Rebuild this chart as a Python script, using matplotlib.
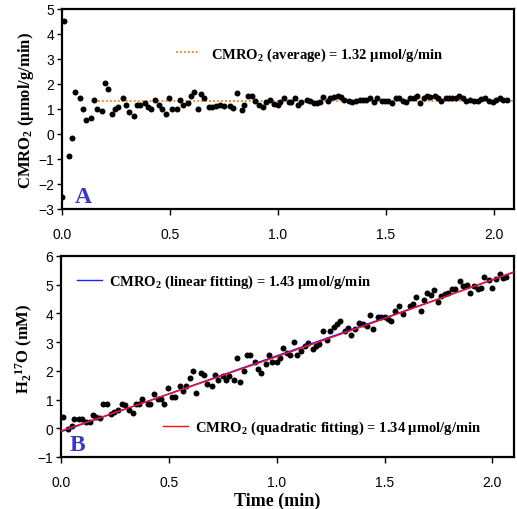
import numpy as np
import matplotlib
matplotlib.use('Agg')
import matplotlib.pyplot as plt
from matplotlib.lines import Line2D

plt.rcParams['font.family'] = ['Liberation Sans', 'DejaVu Sans']
plt.rcParams['mathtext.fontset'] = 'custom'
plt.rcParams['mathtext.rm'] = 'Liberation Serif:bold'
plt.rcParams['mathtext.bf'] = 'Liberation Serif:bold'
plt.rcParams['mathtext.it'] = 'Liberation Serif:bold:italic'

# ---------------- data ----------------
# Panel A: CMRO2 (umol/g/min) vs time (min)
cmro2_t = [0.000, 0.009, 0.032, 0.046, 0.060, 0.083, 0.097, 0.111, 0.133, 0.147,
           0.162, 0.184, 0.198, 0.212, 0.233, 0.247, 0.261, 0.282, 0.296, 0.312,
           0.332, 0.347, 0.361, 0.383, 0.397, 0.411, 0.432, 0.448, 0.462, 0.481,
           0.497, 0.511, 0.531, 0.545, 0.560, 0.582, 0.596, 0.610, 0.631, 0.645,
           0.659, 0.681, 0.694, 0.713,
           0.731, 0.750, 0.778, 0.793, 0.809, 0.832, 0.843, 0.860, 0.880, 0.895,
           0.911, 0.932, 0.944, 0.963, 0.981, 0.999, 1.009, 1.031, 1.052, 1.062,
           1.080, 1.094, 1.110, 1.136, 1.148, 1.167, 1.182, 1.194, 1.212, 1.231,
           1.244, 1.259, 1.278, 1.293, 1.309, 1.330, 1.346, 1.361, 1.380, 1.395,
           1.407, 1.426, 1.444, 1.460, 1.481, 1.497, 1.513, 1.531, 1.546, 1.562,
           1.580, 1.596, 1.611, 1.633, 1.645, 1.661, 1.676, 1.691, 1.707, 1.728,
           1.744, 1.756, 1.778, 1.793, 1.809, 1.827, 1.839, 1.858, 1.874, 1.892,
           1.911, 1.929, 1.944, 1.960, 1.978, 1.997, 2.012, 2.028, 2.043, 2.062]
cmro2_v = [-2.52, 4.52, -0.88, -0.16, 1.69, 1.43, 0.99, 0.55, 0.63, 1.35,
           0.99, 0.91, 2.03, 1.79, 0.80, 0.99, 1.08, 1.43, 1.16, 0.89,
           0.72, 1.16, 1.16, 1.25, 1.07, 0.99, 1.35, 1.16, 0.99, 0.80,
           1.43, 0.99, 0.99, 1.35, 1.16, 1.25, 1.52, 1.69, 0.99, 1.61,
           1.43, 1.08, 1.08, 1.12,
           1.16, 1.13, 1.13, 1.05, 1.63, 0.96, 1.16, 1.52, 1.52, 1.31,
           1.17, 1.07, 1.27, 1.36, 1.21, 1.17, 1.27, 1.44, 1.27, 1.27,
           1.44, 1.17, 1.27, 1.36, 1.31, 1.23, 1.23, 1.27, 1.49, 1.31,
           1.44, 1.49, 1.53, 1.49, 1.36, 1.31, 1.27, 1.31, 1.36, 1.36,
           1.36, 1.44, 1.27, 1.44, 1.33, 1.33, 1.33, 1.23, 1.44, 1.44,
           1.33, 1.27, 1.44, 1.44, 1.53, 1.23, 1.44, 1.53, 1.49, 1.53,
           1.44, 1.33, 1.44, 1.44, 1.44, 1.44, 1.53, 1.44, 1.33, 1.36,
           1.31, 1.31, 1.40, 1.44, 1.31, 1.27, 1.36, 1.44, 1.36, 1.36]
avg_t = [0.167, 2.095]
avg_v = [1.32, 1.32]

# Panel B: H2 17O (mM) vs time (min)
h2o_t = [0.011, 0.034, 0.049, 0.062, 0.085, 0.097, 0.114, 0.134, 0.148, 0.164,
         0.182, 0.196, 0.211, 0.232, 0.244, 0.262, 0.284, 0.297, 0.315, 0.334,
         0.349, 0.362, 0.377, 0.401, 0.414, 0.429, 0.448, 0.464, 0.479, 0.497,
         0.516, 0.529,
         0.550, 0.566, 0.578, 0.599, 0.613, 0.627, 0.649, 0.663, 0.678, 0.700,
         0.715, 0.729, 0.751, 0.765, 0.780, 0.800, 0.814, 0.828, 0.850, 0.864,
         0.878, 0.899, 0.915, 0.929, 0.950, 0.964, 0.980, 1.001, 1.017, 1.029,
         1.048, 1.060,
         1.080, 1.096, 1.114, 1.129, 1.145, 1.166, 1.182, 1.194, 1.216, 1.231,
         1.247, 1.266, 1.278, 1.293, 1.315, 1.331, 1.346, 1.364, 1.383, 1.398,
         1.417, 1.433, 1.445, 1.470, 1.485, 1.500, 1.516, 1.531, 1.547, 1.565,
         1.587,
         1.616, 1.632, 1.647, 1.669, 1.681, 1.697, 1.715, 1.731, 1.746, 1.762,
         1.780, 1.796, 1.811, 1.827, 1.848, 1.864, 1.882, 1.898, 1.913, 1.935,
         1.947, 1.962, 1.984, 1.996, 2.015, 2.033, 2.049, 2.064]
h2o_v = [0.38, -0.04, 0.08, 0.31, 0.31, 0.31, 0.22, 0.22, 0.47, 0.39,
         0.36, 0.86, 0.86, 0.51, 0.57, 0.63, 0.86, 0.80, 0.63, 0.54,
         0.86, 0.86, 1.01, 0.86, 0.86, 1.18, 1.01, 1.01, 0.86, 1.39,
         1.09, 1.09,
         1.47, 1.29, 1.47, 1.76, 2.01, 1.24, 1.94, 1.85, 1.55, 1.47,
         1.85, 1.68, 1.83, 1.68, 1.83, 1.68, 2.46, 1.62, 2.01, 2.55,
         2.55, 2.30, 2.06, 1.91, 2.23, 2.55, 2.30, 2.30, 2.46, 2.79,
         2.61, 2.55,
         3.00, 2.55, 2.70, 2.88, 2.96, 2.75, 2.85, 2.93, 3.40, 3.08,
         3.40, 3.52, 3.63, 3.73, 3.40, 3.49, 3.26, 3.47, 3.67, 3.63,
         3.55, 3.94, 3.47, 3.87, 3.87, 3.87, 3.82, 3.75, 4.10, 4.25,
         3.98,
         4.27, 4.34, 4.57, 4.08, 4.48, 4.71, 4.64, 4.82, 4.41, 4.60,
         4.69, 4.71, 4.84, 4.84, 5.12, 4.96, 4.98, 4.71, 4.96, 4.84,
         4.89, 5.28, 5.16, 4.89, 5.19, 5.39, 5.22, 5.28]
lin_t = [0.0, 2.10]
lin_v = [-0.12, 5.43]
quad_t = [0.0, 0.25, 0.5, 0.75, 1.0, 1.25, 1.5, 1.75, 2.0, 2.10]
quad_v = [-0.09, 0.55, 1.19, 1.84, 2.49, 3.15, 3.82, 4.50, 5.18, 5.45]

x_ticks = [0.0, 0.5, 1.0, 1.5, 2.0]
x_ticklabels = ['0.0', '0.5', '1.0', '1.5', '2.0']
ya_ticks = [-3, -2, -1, 0, 1, 2, 3, 4, 5]
yb_ticks = [-1, 0, 1, 2, 3, 4, 5, 6]

lbl_avg = 'CMRO$_2$ (average) = 1.32 \u03bcmol/g/min'
lbl_lin = 'CMRO$_2$ (linear fitting) = 1.43 \u03bcmol/g/min'
lbl_quad = 'CMRO$_2$ (quadratic fitting) = 1.34 \u03bcmol/g/min'
ylabel_a = 'CMRO$_2$ (\u03bcmol/g/min)'
ylabel_b = 'H$_2$$^{17}$O (mM)'
xlabel_b = 'Time (min)'

# ---------------- figure ----------------
W, H = 517, 510
fig = plt.figure(figsize=(W / 100, H / 100), dpi=100)
ax1 = fig.add_axes([62 / W, 1 - 210 / H, 452 / W, 200 / H])
ax2 = fig.add_axes([61 / W, 1 - 458 / H, 453 / W, 201 / H])

serif = dict(family='Liberation Serif', weight='bold')
orange = '#F5801E'
letter_color = '#3838C4'
prop = dict(family='Liberation Serif', weight='bold', size=10.5)

# Panel A
ax1.plot(avg_t, avg_v, ls=(0, (1, 1.2)), color=orange, lw=1.3, zorder=2)
ax1.plot(cmro2_t, cmro2_v, 'o', color='black', ms=4.3, mec='none', zorder=3)
ax1.set_xlim(0, 2.095)
ax1.set_ylim(-3, 5)
ax1.set_yticks(ya_ticks)
ax1.set_ylabel(ylabel_a, fontsize=12, **serif)
ax1.yaxis.set_label_coords(-0.058, 0.5)
ax1.text(0.046, 0.06, 'A', transform=ax1.transAxes, ha='center', va='center',
         fontsize=17, color=letter_color, **serif)
h_avg = Line2D([], [], ls=(0, (1, 1.2)), color=orange, lw=1.3)
ax1.legend([h_avg], [lbl_avg], loc='center left', bbox_to_anchor=(0.252, 0.775),
           frameon=False, handlelength=1.65, handletextpad=0.75, borderpad=0,
           borderaxespad=0, prop=prop)

# Panel B
ax2.plot(h2o_t, h2o_v, 'o', color='black', ms=4.3, mec='none', zorder=2)
ax2.plot(lin_t, lin_v, color='#2020FF', lw=1.0, zorder=3)
ax2.plot(quad_t, quad_v, color='#FF1010', lw=1.0, zorder=4)
ax2.set_xlim(0, 2.10)
ax2.set_ylim(-1, 6)
ax2.set_yticks(yb_ticks)
ax2.set_ylabel(ylabel_b, fontsize=12, **serif)
ax2.yaxis.set_label_coords(-0.057, 0.545)
ax2.set_xlabel(xlabel_b, fontsize=13, **serif)
ax2.xaxis.set_label_coords(0.477, -0.172)
ax2.text(0.036, 0.06, 'B', transform=ax2.transAxes, ha='center', va='center',
         fontsize=17, color=letter_color, **serif)
h_lin = Line2D([], [], color='#2020FF', lw=1.0)
h_quad = Line2D([], [], color='#FF1010', lw=1.0)
leg1 = ax2.legend([h_lin], [lbl_lin], loc='center left', bbox_to_anchor=(0.035, 0.874),
                  frameon=False, handlelength=1.7, handletextpad=0.5, borderpad=0,
                  borderaxespad=0, prop=prop)
ax2.add_artist(leg1)
ax2.legend([h_quad], [lbl_quad], loc='center left', bbox_to_anchor=(0.225, 0.148),
           frameon=False, handlelength=1.7, handletextpad=0.5, borderpad=0,
           borderaxespad=0, prop=prop)

for ax in (ax1, ax2):
    ax.set_xticks(x_ticks)
    ax.set_xticklabels(x_ticklabels)
    for s in ax.spines.values():
        s.set_linewidth(1.6)
    ax.tick_params(axis='x', direction='out', length=4, width=1, labelsize=10, pad=9)
    ax.tick_params(axis='y', direction='out', length=3.5, width=1, labelsize=10, pad=2)

fig.savefig('out.png', dpi=100)
